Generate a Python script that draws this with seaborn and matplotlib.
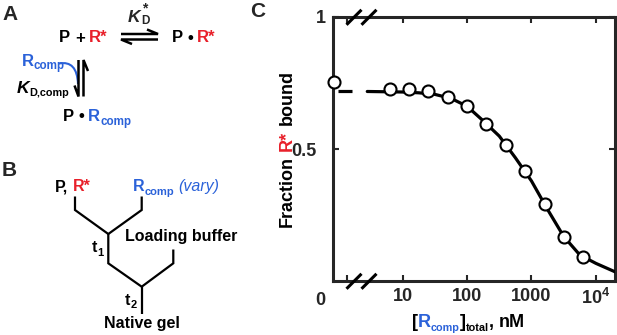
import numpy as np
import pandas as pd
import matplotlib
matplotlib.use("Agg")
import matplotlib.pyplot as plt
from matplotlib.lines import Line2D
from matplotlib.path import Path
from matplotlib.patches import PathPatch
import seaborn as sns

# ===== 数据 =====
conc_nM = [0, 6.25, 12.5, 25, 50, 100, 200, 400, 800, 1600, 3200, 6400]
frac_bound = [0.754, 0.728, 0.730, 0.720, 0.697, 0.663, 0.596, 0.517, 0.418, 0.292, 0.169, 0.091]

# 拟合曲线 (log10 浓度, 结合分数), 从图上逐点读取
fit_log_conc = [0.45, 1.0, 1.25, 1.5, 1.75, 2.0, 2.25, 2.5, 2.75, 3.0, 3.25, 3.5, 3.75, 4.0, 4.297]
fit_frac = [0.719, 0.717, 0.714, 0.708, 0.693, 0.663, 0.608, 0.550, 0.468, 0.380, 0.272, 0.170, 0.100, 0.068, 0.036]
plateau = 0.719

xtick_pos = [1, 2, 3, 4]
xtick_labels = ["10", "100", "1000", "10$^{4}$"]

W, H = 617, 335
RED = "#e8202a"
BLUE = "#2b62d9"

# ===== 样式 =====
sns.set_style("ticks")
plt.rcParams["font.family"] = ["Liberation Sans", "DejaVu Sans"]
plt.rcParams["font.weight"] = "bold"
plt.rcParams["mathtext.fontset"] = "custom"
plt.rcParams["mathtext.rm"] = "Liberation Sans:bold"
plt.rcParams["mathtext.bf"] = "Liberation Sans:bold"
plt.rcParams["mathtext.it"] = "Liberation Sans:bold:italic"

fig = plt.figure(figsize=(W / 100, H / 100), dpi=100)
renderer = fig.canvas.get_renderer()


def P(x, y):
    return x / W, 1 - y / H


def line(pts, color="black", lw=1.6):
    xs = [p[0] / W for p in pts]
    ys = [1 - p[1] / H for p in pts]
    fig.add_artist(Line2D(xs, ys, color=color, lw=lw, transform=fig.transFigure,
                          solid_capstyle="butt", solid_joinstyle="miter"))


def rich(x, y, parts, size=12, rot=0, ha="left"):
    """parts: (text, color, scale, raise_px, style); x, y = 基线起点 (像素, 自上而下)"""
    arts, advs = [], []
    for s, c, k, dy, st in parts:
        if s.strip() == "":
            arts.append(None)
            advs.append(0.278 * size * k * 100 / 72 * len(s))
            continue
        wt = "normal" if s.startswith("(") else "bold"
        t = fig.text(0, 0, s, color=c, fontsize=size * k, fontstyle=st, fontweight=wt,
                     ha="left", va="baseline", rotation_mode="anchor")
        advs.append(t.get_window_extent(renderer).width)
        arts.append(t)
    total = sum(advs)
    adv = -total / 2 if ha == "center" else 0
    for t, a, (s, c, k, dy, st) in zip(arts, advs, parts):
        if t is not None:
            if rot == 90:
                t.set_rotation(90)
                t.set_position(P(x - dy, y - adv))
            else:
                t.set_position(P(x + adv, y - dy))
        adv += a
    return x + adv


N = "normal"

# ===== 面板 A: 反应示意 =====
fig.text(*P(2, 20), "A", fontsize=15, fontweight="bold", va="baseline")
rich(59, 42.5, [("P", "black", 1, 0, N), (" ", "black", 1, 0, N),
                ("+", "black", 1, 0, N), (" ", "black", 1, 0, N),
                ("R*", RED, 1, 0, N)], size=12)
# K_D*
fig.text(*P(128, 21.5), "K", fontsize=12.5, fontstyle="italic", fontweight="bold", va="baseline")
fig.text(*P(141.5, 24.5), "D", fontsize=8.5, fontweight="bold", va="baseline")
fig.text(*P(142.5, 12), "*", fontsize=10, fontweight="bold", va="baseline")
# 可逆箭头 (水平)
line([(121, 34), (158, 34), (147, 29.5)], lw=1.8)
line([(132, 44), (121, 39.5), (158, 39.5)], lw=1.8)
rich(172, 42.5, [("P", "black", 1, 0, N), (" ", "black", 0.9, 0, N),
                 ("\u2022", "black", 1, 0, N), (" ", "black", 0.9, 0, N),
                 ("R*", RED, 1, 0, N)], size=12)
# 可逆箭头 (竖直)
line([(78.5, 60), (78.5, 96.5), (74.5, 85.5)], lw=1.8)
line([(88, 71), (83.5, 60), (83.5, 96.5)], lw=1.8)
rich(21.5, 65.5, [("R", BLUE, 1, 0, N), ("comp", BLUE, 0.7, -3.5, N)], size=12)
arc = Path([P(59, 63.5), P(77, 60), P(78, 84)], [Path.MOVETO, Path.CURVE3, Path.CURVE3])
fig.add_artist(PathPatch(arc, fill=False, edgecolor=BLUE, lw=1.5, transform=fig.transFigure))
rich(16.5, 93, [("K", "black", 1.05, 0, "italic"), ("D,comp", "black", 0.65, -3, N)], size=12)
rich(63, 121, [("P", "black", 1, 0, N), (" ", "black", 0.9, 0, N),
               ("\u2022", "black", 1, 0, N), (" ", "black", 0.9, 0, N),
               ("R", BLUE, 1, 0, N), ("comp", BLUE, 0.7, -3.5, N)], size=12)

# ===== 面板 B: 实验流程 =====
fig.text(*P(2, 176), "B", fontsize=15, fontweight="bold", va="baseline")
rich(55, 191, [("P,", "black", 1, 0, N), (" ", "black", 1, 0, N),
               ("R*", RED, 1, 0, N)], size=11.5)
rich(133, 191, [("R", BLUE, 1, 0, N), ("comp", BLUE, 0.7, -3.5, N),
                (" ", BLUE, 1, 0, N), ("(vary)", BLUE, 1, 0, "italic")], size=11.5)
line([(75, 196.5), (75, 210), (108.3, 234), (141.7, 210), (141.7, 196.5)])
line([(108.3, 234), (108.3, 263.3), (141.7, 286.7), (173.3, 263.3), (173.3, 249.5)])
line([(141.7, 286.7), (141.7, 313.5)])
rich(92, 252.5, [("t", "black", 1, 0, N), ("1", "black", 0.7, -3.5, N)], size=11.5)
rich(125, 240.5, [("Loading buffer", "black", 1, 0, N)], size=11.5)
rich(125, 305, [("t", "black", 1, 0, N), ("2", "black", 0.7, -3.5, N)], size=11.5)
rich(103.5, 328, [("Native gel", "black", 1, 0, N)], size=11.5)

# ===== 面板 C: 竞争结合曲线 =====
ax = fig.add_axes([333 / W, 1 - 281.3 / H, (615 - 333) / W, (281.3 - 17.3) / H])
x_zero = -0.07
xpos = [x_zero] + [np.log10(c) for c in conc_nM[1:]]
df = pd.DataFrame({"logc": xpos, "frac": frac_bound})

sns.lineplot(x=fit_log_conc, y=fit_frac, color="black", lw=2.3, ax=ax, zorder=3)
ax.plot([-0.005, 0.214], [plateau, plateau], color="black", lw=2.3, solid_capstyle="butt", zorder=3)
sns.scatterplot(data=df, x="logc", y="frac", s=75, color="white", edgecolor="black",
                linewidth=1.5, zorder=4, clip_on=False, ax=ax)

ax.set_xlim(-0.082, 4.297)
ax.set_ylim(0, 1)
ax.set_xticks([0.13] + xtick_pos)
ax.set_xticklabels([""] + xtick_labels)
ax.set_yticks([0.5, 1])
ax.set_yticklabels([])
ax.tick_params(direction="in", length=4.5, width=1.5, top=True, right=True,
               labelsize=13, pad=5)
for s in ax.spines.values():
    s.set_linewidth(2.2)
    s.set_visible(True)
ax.set_xlabel("")
ax.set_ylabel("")

# 断轴标记
for cy in (17.3, 281.3):
    for cx in (354, 369):
        line([(cx - 7.5, cy + 7.5), (cx + 7.5, cy - 7.5)], lw=2.2)

fig.text(*P(326, 16.5), "1", fontsize=13, ha="right", va="center_baseline")
fig.text(*P(317, 149), "0.5", fontsize=13, ha="right", va="center_baseline")
fig.text(*P(320.5, 298.5), "0", fontsize=13, ha="center", va="center_baseline")
fig.text(*P(250, 17), "C", fontsize=15, fontweight="bold", va="baseline")

rich(291.5, 148.5, [("Fraction", "black", 1, 0, N), (" ", "black", 1, 0, N),
                    ("R*", RED, 1, 0, N), (" ", "black", 1, 0, N),
                    ("bound", "black", 1, 0, N)], size=13, rot=90, ha="center")
rich(412, 327, [("[", "black", 1, 0, N), ("R", BLUE, 1, 0, N),
                ("comp", BLUE, 0.6, -4, N), ("]", "black", 1, 0, N),
                ("total", "black", 0.6, -4, N), (",", "black", 1, 0, N),
                (" ", "black", 1, 0, N), ("nM", "black", 1, 0, N)], size=13)

fig.savefig("out.png", dpi=100)
